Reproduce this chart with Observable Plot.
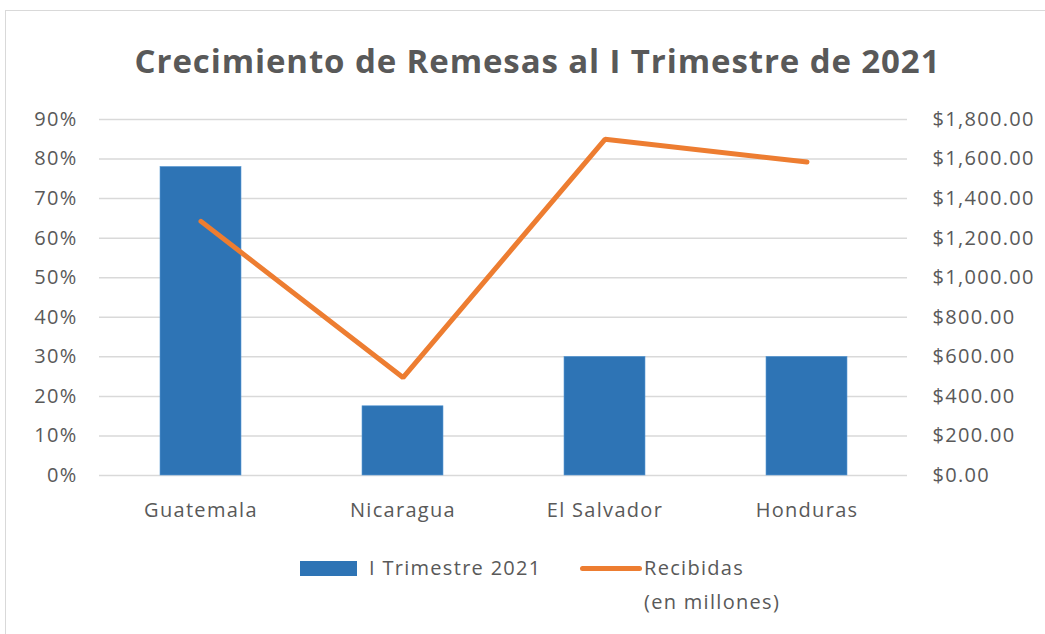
<!DOCTYPE html>
<html>
<head>
<meta charset="utf-8">
<script src="https://cdn.jsdelivr.net/npm/d3@7"></script>
<script src="https://cdn.jsdelivr.net/npm/@observablehq/plot@0.6"></script>
<style>
  html, body { margin: 0; padding: 0; background: #fff; }
  body { width: 1045px; height: 634px; position: relative; overflow: hidden; font-family: "Open Sans", sans-serif; color: #595959; }
  #frame { position: absolute; left: 5px; top: 10px; width: 1050px; height: 640px; border: 1.5px solid #d9d9d9; box-sizing: border-box; }
  #title { position: absolute; left: 0; width: 1075px; top: 38px; text-align: center; font-size: 33px; font-weight: 700; color: #595959; letter-spacing: 0.9px; }
  #chart { position: absolute; left: 0; top: 95px; }
  #legend { position: absolute; left: 0; top: 553px; width: 1045px; font-size: 20px; letter-spacing: 1.3px; color: #595959; }
  .sw { position: absolute; }
</style>
</head>
<body>
<div id="frame"></div>
<div id="title">Crecimiento de Remesas al I Trimestre de 2021</div>
<div id="chart"></div>
<div id="legend">
  <div class="sw" style="left:300px; top:8px; width:57px; height:15px; background:#2e74b5;"></div>
  <div class="sw" style="left:369px; top:0px; line-height:30px;">I Trimestre 2021</div>
  <div class="sw" style="left:580px; top:13px; width:62px; height:5px; border-radius:3px; background:#ed7d31;"></div>
  <div class="sw" style="left:644px; top:-2px; line-height:34px;">Recibidas<br>(en millones)</div>
</div>
<script>
const countries = ["Guatemala", "Nicaragua", "El Salvador", "Honduras"];
const growth = [0.78, 0.175, 0.30, 0.30];          // I Trimestre 2021 (left axis, %)
const received = [1285, 495, 1700, 1585];           // Recibidas en millones (right axis, $)
const pctTicks = [0, 0.1, 0.2, 0.3, 0.4, 0.5, 0.6, 0.7, 0.8, 0.9];
const dollarTicks = [0, 200, 400, 600, 800, 1000, 1200, 1400, 1600, 1800];

const rightMax = 1800, leftMax = 0.9;
const toLeft = v => v / rightMax * leftMax;

const bars = countries.map((c, i) => ({country: c, value: growth[i]}));
const line = countries.map((c, i) => ({country: c, value: toLeft(received[i])}));
const dollarFmt = d3.format("$,.2f");

const plot = Plot.plot({
  width: 1045,
  height: 440,
  marginLeft: 99,
  marginRight: 138,
  marginTop: 24,
  marginBottom: 60,
  style: { fontFamily: "Open Sans, sans-serif", fontSize: "20px", letterSpacing: "1.3px", color: "#595959", background: "transparent" },
  x: { domain: countries, paddingInner: 0.6, paddingOuter: 0.3, label: null },
  y: { domain: [0, leftMax], label: null },
  marks: [
    Plot.gridY(pctTicks, { stroke: "#d9d9d9", strokeOpacity: 1, strokeWidth: 1.5 }),
    Plot.barY(bars, { x: "country", y: "value", fill: "#2e74b5", stroke: "#5b9bd5", strokeWidth: 0.6 }),
    Plot.lineY(line, { x: "country", y: "value", stroke: "#ed7d31", strokeWidth: 5, strokeLinecap: "round", strokeLinejoin: "miter" }),
    Plot.axisY(pctTicks, { anchor: "left", tickSize: 0, tickPadding: 22, tickFormat: d3.format(".0%"), label: null, fill: "#595959" }),
    Plot.axisY(dollarTicks.map(toLeft), { anchor: "right", tickSize: 0, tickPadding: 25, tickFormat: (d, i) => dollarFmt(dollarTicks[i]), label: null, fill: "#595959" }),
    Plot.axisX({ tickSize: 0, tickPadding: 27, label: null, fill: "#595959" })
  ]
});
document.getElementById("chart").appendChild(plot);
</script>
</body>
</html>
